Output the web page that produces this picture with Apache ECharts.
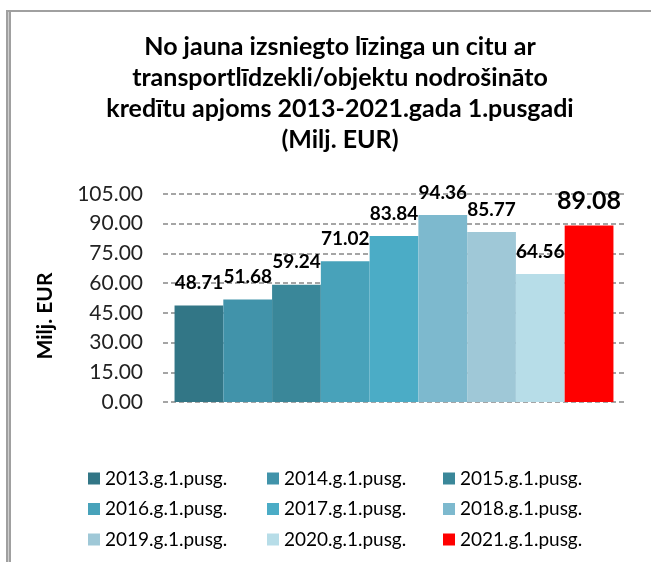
<!DOCTYPE html>
<html>
<head>
<meta charset="utf-8">
<script src="https://cdn.jsdelivr.net/npm/echarts@6/dist/echarts.min.js"></script>
<style>
  html, body { margin: 0; padding: 0; background: #fff; }
  #chart { width: 651px; height: 562px; }
</style>
</head>
<body>
<div id="chart"></div>
<script>
// data
const seriesNames = [
  "2013.g.1.pusg.", "2014.g.1.pusg.", "2015.g.1.pusg.",
  "2016.g.1.pusg.", "2017.g.1.pusg.", "2018.g.1.pusg.",
  "2019.g.1.pusg.", "2020.g.1.pusg.", "2021.g.1.pusg."
];
const values = [48.71, 51.68, 59.24, 71.02, 83.84, 94.36, 85.77, 64.56, 89.08];
const colors = ["#327686", "#4193aa", "#3a8799", "#48a2ba", "#4bacc6", "#7db9ce", "#9fc8d7", "#b7dde8", "#ff0000"];
const titleText = "No jauna izsniegto līzinga un citu ar\ntransportlīdzekli/objektu nodrošināto\nkredītu apjoms 2013-2021.gada 1.pusgadi\n(Milj. EUR)";
const yName = "Milj. EUR";

const FONT = "Lato";

const chart = echarts.init(document.getElementById("chart"));

const series = seriesNames.map((name, i) => {
  const last = i === seriesNames.length - 1;
  return {
    name: name,
    type: "bar",
    data: [values[i]],
    barGap: "0%",
    barCategoryGap: "5%",
    itemStyle: { color: colors[i] },
    label: {
      show: true,
      position: "top",
      distance: last ? 12 : 13,
      formatter: (p) => p.value.toFixed(2),
      fontFamily: FONT,
      fontWeight: "bold",
      fontSize: last ? 25 : 19,
      color: "#000",
    },
  };
});

const legendCol = (col, left) => ({
  orient: "vertical",
  left: left,
  top: 469,
  padding: 0,
  itemWidth: 12,
  itemHeight: 12,
  itemGap: 11.5,
  icon: "rect",
  data: [seriesNames[col], seriesNames[col + 3], seriesNames[col + 6]],
  textStyle: { fontFamily: FONT, fontSize: 19, lineHeight: 18, color: "#000" },
});

const option = {
  animation: false,
  grid: { left: 163, right: 26, top: 194, bottom: 160 },
  legend: [legendCol(0, 88), legendCol(1, 267), legendCol(2, 443)],
  xAxis: {
    type: "category",
    data: [""],
    axisLine: { show: false },
    axisTick: { show: false },
    axisLabel: { show: false },
  },
  yAxis: {
    type: "value",
    min: 0,
    max: 105,
    interval: 15,
    axisLine: { show: false },
    axisTick: { show: false },
    axisLabel: {
      margin: 20,
      formatter: (v) => v.toFixed(2),
      fontFamily: FONT,
      fontSize: 21,
      color: "#222",
    },
    splitLine: {
      lineStyle: { color: "#888", width: 1.5, type: [5, 3] },
    },
  },
  series: series,
  graphic: [
    { type: "rect", shape: { x: 6, y: 10, width: 645, height: 2 }, style: { fill: "#a0a0a0" } },
    { type: "rect", shape: { x: 6, y: 10, width: 5, height: 552 }, style: { fill: "#a0a0a0" } },
    { type: "rect", shape: { x: 8, y: 12, width: 1, height: 550 }, style: { fill: "#cfcfcf" } },
    {
      type: "text",
      x: 340,
      y: 31,
      style: {
        text: titleText,
        textAlign: "center",
        textVerticalAlign: "top",
        fontFamily: FONT,
        fontWeight: "bold",
        fontSize: 25,
        lineHeight: 31,
        fill: "#000",
      },
    },
    {
      type: "text",
      x: 45,
      y: 316,
      rotation: Math.PI / 2,
      style: {
        text: yName,
        textAlign: "center",
        textVerticalAlign: "middle",
        fontFamily: FONT,
        fontWeight: "bold",
        fontSize: 21,
        fill: "#000",
      },
    },
  ],
};

chart.setOption(option);
</script>
</body>
</html>
